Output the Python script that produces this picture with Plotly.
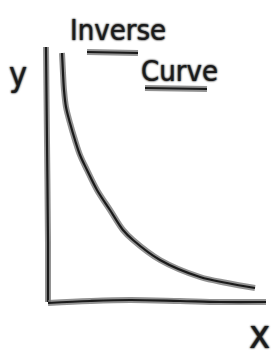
import plotly.graph_objects as go

# Inverse curve points (data units)
curve_x = [0.7, 0.75, 0.8, 0.9, 1.1, 1.35, 1.6, 1.95, 2.45, 3.1, 3.75, 4.25, 5.6, 7.6, 8.95, 10.35]
curve_y = [12.45, 11.45, 10.6, 9.75, 8.95, 8.1, 7.35, 6.6, 5.6, 4.6, 3.6, 3.1, 2.1, 1.25, 0.95, 0.7]

# Hand-drawn axis strokes
yaxis_x = [-0.1, -0.05, 0.0, 0.0]
yaxis_y = [12.75, 8.0, 3.0, 0.0]
xaxis_x = [0.0, 2.1, 4.1, 6.6, 8.6, 10.9]
xaxis_y = [-0.05, 0.05, 0.1, 0.05, 0.0, 0.0]

title_words = ["Inverse", "Curve"]
axis_labels = ["y", "x"]

W, H = 271, 356
fig = go.Figure()

def stroke(xs, ys):
    fig.add_trace(go.Scatter(x=xs, y=ys, mode="lines",
                             line=dict(color="rgba(110,110,110,0.75)", width=6, shape="spline", smoothing=1),
                             hoverinfo="skip", showlegend=False))
    fig.add_trace(go.Scatter(x=xs, y=ys, mode="lines",
                             line=dict(color="#1a1a1a", width=2.2, shape="spline", smoothing=1),
                             hoverinfo="skip", showlegend=False))

stroke(yaxis_x, yaxis_y)
stroke(xaxis_x, xaxis_y)
stroke(curve_x, curve_y)

font_name = "DejaVu Sans Condensed, DejaVu Sans"
shadow = "0px 0px 1.5px #555, 0px 0px 2px #777, 0px 0px 2px #777"

def label(text, px, py, size):
    fig.add_annotation(text=text, xref="paper", yref="paper",
                       x=px / W, y=1 - py / H, xanchor="center", yanchor="middle",
                       showarrow=False,
                       font=dict(family=font_name, size=size, color="#1a1a1a", shadow=shadow))

label(title_words[0], 118, 30, 29)
label(title_words[1], 179, 71, 29)
label(axis_labels[0], 18, 74, 34)
label(axis_labels[1], 259, 334, 40)

# underlines
for x0, x1, y in [(87, 138, 52), (145, 207, 88)]:
    for col, w in [("rgba(110,110,110,0.75)", 6), ("#1a1a1a", 2.2)]:
        fig.add_shape(type="line", xref="paper", yref="paper",
                      x0=x0 / W, x1=x1 / W, y0=1 - y / H, y1=1 - (y + 1) / H,
                      line=dict(color=col, width=w))

fig.update_layout(
    width=W, height=H, autosize=False,
    margin=dict(l=0, r=0, t=0, b=0),
    paper_bgcolor="white", plot_bgcolor="white",
    xaxis=dict(range=[-48 / 20, (W - 48) / 20], visible=False, fixedrange=True),
    yaxis=dict(range=[(302 - H) / 20, 302 / 20], visible=False, fixedrange=True),
)

fig.write_html("out.html", config={"displayModeBar": False},
               post_script="document.body.style.margin='0';document.body.style.overflow='hidden';")
